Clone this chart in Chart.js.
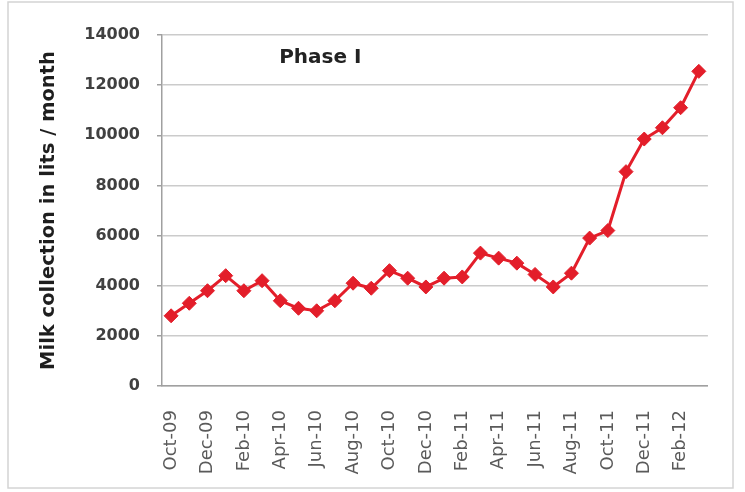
<!DOCTYPE html>
<html>
<head>
<meta charset="utf-8">
<script src="https://cdn.jsdelivr.net/npm/chart.js@4.4.1/dist/chart.umd.min.js"></script>
<style>
  html, body { margin: 0; padding: 0; background: #fff; }
  #wrap { width: 745px; height: 492px; }
</style>
</head>
<body>
<div id="wrap"><canvas id="milk" width="745" height="492"></canvas></div>
<script>
/* Monthly milk collection, Phase I (Oct-09 .. Mar-12) */
const months = [
  "Oct-09", "Nov-09", "Dec-09",
  "Jan-10", "Feb-10", "Mar-10", "Apr-10", "May-10", "Jun-10",
  "Jul-10", "Aug-10", "Sep-10", "Oct-10", "Nov-10", "Dec-10",
  "Jan-11", "Feb-11", "Mar-11", "Apr-11", "May-11", "Jun-11",
  "Jul-11", "Aug-11", "Sep-11", "Oct-11", "Nov-11", "Dec-11",
  "Jan-12", "Feb-12", "Mar-12"
];
const milkLitres = [
  2800, 3300, 3800,
  4400, 3800, 4200, 3400, 3100, 3000,
  3400, 4100, 3900, 4600, 4300, 3950,
  4300, 4350, 5300, 5100, 4900, 4450,
  3950, 4500, 5900, 6200, 8550, 9850,
  10300, 11100, 12550
];
const yTicks = [0, 2000, 4000, 6000, 8000, 10000, 12000, 14000];

const RED = "#e31e2a";
const GRID = "#cbcbcb";
const AXIS = "#a0a0a0";

// outer frame of the chart box
const frame = {
  id: "frame",
  beforeDraw(chart) {
    const { ctx, width, height } = chart;
    ctx.save();
    ctx.fillStyle = "#fff";
    ctx.fillRect(0, 0, width, height);
    ctx.strokeStyle = "#d4d4d4";
    ctx.lineWidth = 1.5;
    ctx.strokeRect(8, 2, width - 20, height - 6);
    ctx.restore();
  }
};

// "Phase I" label inside the plot
const phaseLabel = {
  id: "phaseLabel",
  afterDatasetsDraw(chart) {
    const { ctx, chartArea: a } = chart;
    ctx.save();
    ctx.font = "bold 20px 'DejaVu Sans'";
    ctx.fillStyle = "#222";
    ctx.textAlign = "center";
    ctx.textBaseline = "middle";
    ctx.fillText("Phase I", a.left + (a.right - a.left) * 0.29, a.top + 23);
    ctx.restore();
  }
};

new Chart(document.getElementById("milk"), {
  type: "line",
  data: {
    labels: months,
    datasets: [{
      label: "Milk collection",
      data: milkLitres,
      borderColor: RED,
      backgroundColor: RED,
      borderWidth: 3,
      pointStyle: "rectRot",
      pointRadius: 7,
      pointBorderWidth: 1,
      pointBackgroundColor: RED,
      pointBorderColor: RED,
      tension: 0
    }]
  },
  options: {
    responsive: false,
    animation: false,
    layout: { padding: { left: 33, right: 35, top: 35, bottom: 6 } },
    plugins: {
      legend: { display: false },
      tooltip: { enabled: false }
    },
    scales: {
      x: {
        offset: true,
        grid: { display: false, drawTicks: false },
        border: { display: true, color: AXIS, width: 1.5 },
        ticks: {
          autoSkip: false,
          maxRotation: 90,
          minRotation: 90,
          padding: 24,
          color: "#5a5a5a",
          font: { family: "'DejaVu Sans'", size: 18 },
          callback: (v, i) => (i % 2 === 0 ? months[i] : "")
        },
        afterFit: (s) => { s.height = 100; }
      },
      y: {
        min: yTicks[0],
        max: yTicks[yTicks.length - 1],
        grid: { color: GRID, lineWidth: 1.5, tickLength: 5, tickColor: AXIS },
        border: { display: true, color: AXIS, width: 1.5 },
        ticks: {
          stepSize: yTicks[1] - yTicks[0],
          padding: 17,
          color: "#404040",
          font: { family: "'DejaVu Sans'", size: 16, weight: "bold" },
          callback: (v) => String(v)
        },
        title: {
          display: true,
          text: "Milk collection in lits / month",
          color: "#1e1e1e",
          font: { family: "'DejaVu Sans'", size: 19.5, weight: "bold" }
        },
        afterFit: (s) => { s.width = 129; }
      }
    }
  },
  plugins: [frame, phaseLabel]
});
</script>
</body>
</html>
